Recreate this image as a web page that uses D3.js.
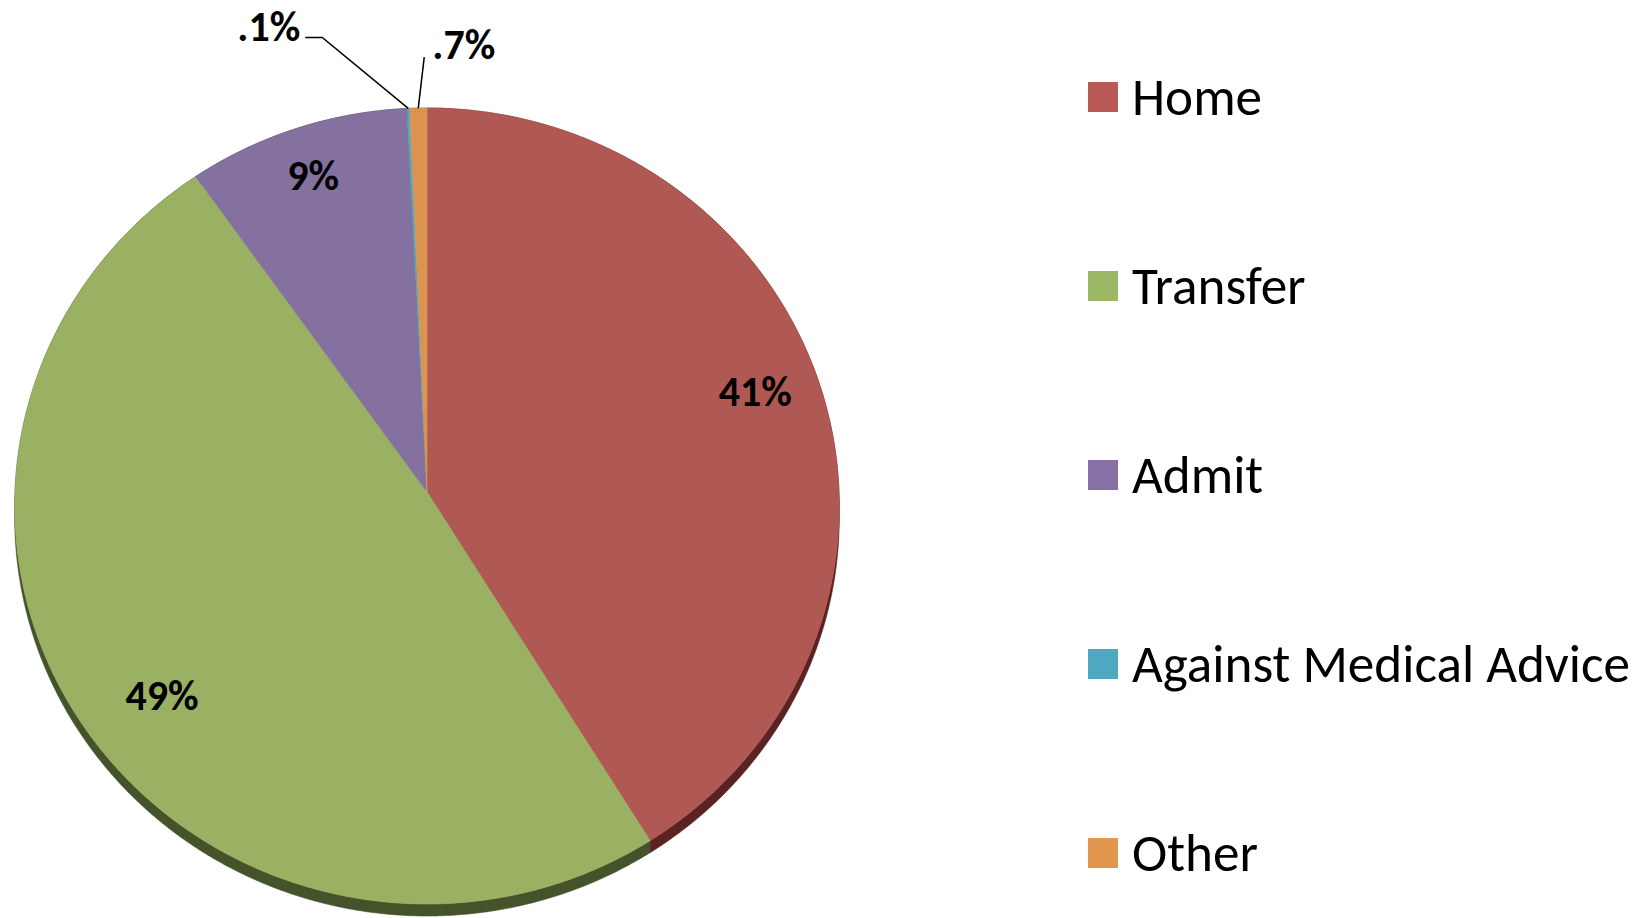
<!DOCTYPE html>
<html>
<head>
<meta charset="utf-8">
<script src="https://cdn.jsdelivr.net/npm/d3@7"></script>
<style>
  html, body { margin: 0; padding: 0; background: #ffffff; }
  svg { display: block; }
</style>
</head>
<body>
<svg id="chart" width="1651" height="918"></svg>
<script>
// ---- data ----
const categories = ["Home", "Transfer", "Admit", "Against Medical Advice", "Other"];
const values = [41.2, 49, 9, 0.1, 0.7];
const valueLabels = ["41%", "49%", "9%", ".1%", ".7%"];

// ---- styles ----
const faceColors = ["#B05853", "#9AB062", "#8471A0", "#4AA8C0", "#DA944F"];
const sideColors = ["#5A2220", "#45532A", "#3E3050", "#245A66", "#6E4520"];
const legendColors = ["#BB5A55", "#9CB766", "#8770A4", "#50A8C0", "#E2974E"];
const FONT = "Carlito, Calibri, Lato, 'Open Sans', sans-serif";
// label nudges (px) for inside labels, per slice index
const labelNudge = [[2, -11], [25, 19], [-5, -13]];

const svg = d3.select("#chart");

// ---- perspective projection of the tilted pie ----
const cx = 427, cy = 492, S = 412, P = 0.0352, C = 0.9648, DEPTH = 12;
function proj(a, r) {
  const u = r * Math.sin(a), v = -r * Math.cos(a);
  const k = 1 / (1 - v * P);
  return [cx + S * u * k, cy + S * C * v * k];
}
function rim(a0, a1) {
  const n = Math.max(2, Math.ceil((a1 - a0) / 0.005));
  const pts = [];
  for (let i = 0; i <= n; i++) pts.push(proj(a0 + (a1 - a0) * i / n, 1));
  return pts;
}

const pie = d3.pie().sort(null).startAngle(0).endAngle(2 * Math.PI).value(d => d.value);
const data = categories.map((c, i) => ({ name: c, value: values[i], label: valueLabels[i], i }));
const arcs = pie(data);
const line = d3.line();

// sides (extruded rim)
const gSide = svg.append("g");
arcs.forEach(d => {
  const top = rim(d.startAngle, d.endAngle);
  const bottom = top.map(p => [p[0], p[1] + DEPTH]).reverse();
  gSide.append("path")
    .attr("d", line(top.concat(bottom)) + "Z")
    .attr("fill", sideColors[d.data.i])
    .attr("stroke", sideColors[d.data.i])
    .attr("stroke-width", 0.6);
});

// top faces
const gFace = svg.append("g");
arcs.forEach(d => {
  const pts = [proj(0, 0)].concat(rim(d.startAngle, d.endAngle));
  gFace.append("path")
    .attr("d", line(pts) + "Z")
    .attr("fill", faceColors[d.data.i])
    .attr("stroke", faceColors[d.data.i])
    .attr("stroke-width", 0.6)
    .attr("stroke-linejoin", "round");
});

// ---- value labels ----
function fitSize(text, weight, targetWidth) {
  const t = svg.append("text").attr("font-family", FONT).attr("font-weight", weight)
    .attr("font-size", 100).text(text);
  const w = t.node().getComputedTextLength();
  t.remove();
  return 100 * targetWidth / w;
}
const labelSize = Math.min(42, fitSize(".1%", "bold", 63));
const gLab = svg.append("g").attr("font-family", FONT).attr("font-weight", "bold")
  .attr("font-size", labelSize).attr("fill", "#000");

arcs.forEach(d => {
  const mid = (d.startAngle + d.endAngle) / 2;
  const frac = d.data.value / d3.sum(values);
  if (frac > 0.05) {
    const p = proj(mid, 0.83);
    const nudge = labelNudge[d.data.i] || [0, 0];
    gLab.append("text")
      .attr("x", p[0] + nudge[0]).attr("y", p[1] + nudge[1])
      .attr("text-anchor", "middle")
      .attr("dominant-baseline", "central")
      .text(d.data.label);
  }
});

// small slices: leader lines
const amaArc = arcs[3], otherArc = arcs[4];
{
  const a = (amaArc.startAngle + amaArc.endAngle) / 2;
  const p = proj(a, 1);
  const elbow = [p[0] - 86, p[1] - 71];
  const end = [elbow[0] - 17, elbow[1]];
  svg.append("path").attr("d", line([p, elbow, end]))
    .attr("fill", "none").attr("stroke", "#000").attr("stroke-width", 1.5);
  gLab.append("text").attr("x", end[0] - 5).attr("y", elbow[1] + 4)
    .attr("text-anchor", "end").text(amaArc.data.label);
}
{
  const a = (otherArc.startAngle + otherArc.endAngle) / 2;
  const p = proj(a, 1);
  const end = [p[0] + 6, p[1] - 51];
  svg.append("path").attr("d", line([p, end]))
    .attr("fill", "none").attr("stroke", "#000").attr("stroke-width", 1.5);
  gLab.append("text").attr("x", end[0] + 8).attr("y", end[1] + 2)
    .attr("text-anchor", "start").text(otherArc.data.label);
}

// ---- legend ----
const legendSize = fitSize("Against Medical Advice", "normal", 498);
const gLeg = svg.append("g").attr("font-family", FONT).attr("font-size", legendSize);
const legY = d3.scalePoint().domain(categories).range([115, 871]);
categories.forEach((c, i) => {
  const y = legY(c);
  gLeg.append("rect").attr("x", 1088).attr("y", y - 33).attr("width", 30).attr("height", 30)
    .attr("fill", legendColors[i]);
  gLeg.append("text").attr("x", 1132).attr("y", y).attr("fill", "#000").text(c);
});
</script>
</body>
</html>
